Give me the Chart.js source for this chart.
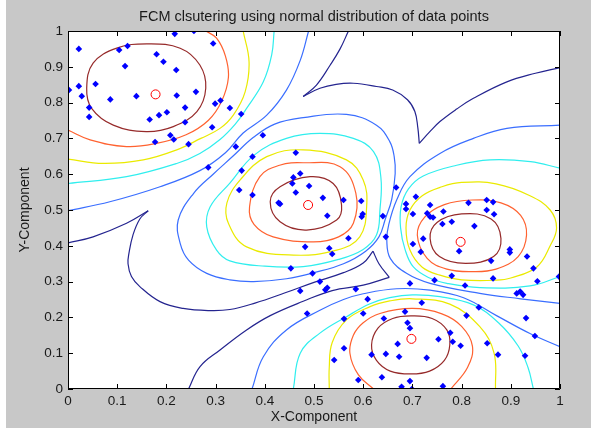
<!DOCTYPE html>
<html>
<head>
<meta charset="utf-8">
<title>FCM clustering</title>
<script src="https://cdn.jsdelivr.net/npm/chart.js@4.4.1/dist/chart.umd.min.js"></script>
<style>
  html, body { margin: 0; padding: 0; background: #fff; }
  #wrap { width: 591px; height: 428px; }
</style>
</head>
<body>
<div id="wrap"><canvas id="myChart" width="591" height="428"></canvas></div>
<script>
const tickValues = [0, 0.1, 0.2, 0.3, 0.4, 0.5, 0.6, 0.7, 0.8, 0.9, 1];
const tickLabels = ['0', '0.1', '0.2', '0.3', '0.4', '0.5', '0.6', '0.7', '0.8', '0.9', '1'];

// data points (x, y)
const dataPoints = [
  [0.217,0.992],[0.256,1.0],[0.022,0.950],[0.104,0.947],[0.121,0.958],[0.295,0.965],[0.180,0.935],
  [0.194,0.914],[0.116,0.902],[0.220,0.891],[0.056,0.852],[0.002,0.835],[0.022,0.846],[0.028,0.818],
  [0.086,0.809],[0.139,0.818],[0.221,0.820],[0.260,0.830],[0.299,0.797],[0.310,0.806],[0.329,0.785],
  [0.043,0.786],[0.043,0.760],[0.238,0.786],[0.201,0.773],[0.185,0.765],[0.166,0.753],[0.238,0.745],
  [0.293,0.731],[0.208,0.709],[0.215,0.697],[0.177,0.690],[0.245,0.684],[0.352,0.768],[0.285,0.619],
  [0.396,0.709],[0.341,0.677],[0.463,0.660],[0.375,0.649],[0.353,0.610],[0.348,0.556],[0.375,0.542],
  [0.458,0.591],[0.472,0.602],[0.456,0.574],[0.490,0.567],[0.463,0.549],[0.428,0.520],[0.431,0.517],
  [0.518,0.534],[0.560,0.528],[0.596,0.525],[0.527,0.484],[0.599,0.489],[0.597,0.481],[0.640,0.483],
  [0.570,0.421],[0.646,0.425],[0.482,0.397],[0.531,0.393],[0.537,0.377],[0.453,0.337],[0.497,0.323],
  [0.512,0.300],[0.472,0.274],[0.527,0.283],[0.523,0.277],[0.585,0.279],[0.486,0.211],
  [0.667,0.563],[0.707,0.537],[0.687,0.517],[0.687,0.503],[0.736,0.514],[0.814,0.520],[0.851,0.528],
  [0.864,0.522],[0.701,0.489],[0.730,0.491],[0.736,0.481],[0.742,0.479],[0.763,0.496],[0.851,0.500],
  [0.866,0.488],[0.761,0.461],[0.780,0.467],[0.826,0.455],[0.722,0.420],[0.701,0.405],[0.795,0.385],
  [0.717,0.383],[0.898,0.390],[0.898,0.381],[0.933,0.370],[0.860,0.358],[0.946,0.337],[0.780,0.316],
  [0.864,0.309],[0.745,0.304],[0.807,0.289],[0.695,0.295],[0.954,0.301],[0.998,0.314],[0.912,0.267],
  [0.919,0.272],[0.925,0.263],
  [0.609,0.251],[0.719,0.241],[0.835,0.228],[0.810,0.205],[0.931,0.198],[0.949,0.148],[0.561,0.196],
  [0.600,0.211],[0.642,0.197],[0.685,0.216],[0.690,0.185],[0.695,0.170],[0.753,0.139],[0.782,0.132],
  [0.798,0.121],[0.777,0.157],[0.852,0.128],[0.670,0.126],[0.561,0.114],[0.646,0.098],[0.673,0.090],
  [0.729,0.087],[0.617,0.096],[0.874,0.096],[0.929,0.093],[0.541,0.081],[0.638,0.033],[0.695,0.022],
  [0.678,0.006],[0.699,0.0],[0.762,0.008],[0.590,0.025]
];

// cluster centres
const centers = [[0.178,0.823],[0.488,0.514],[0.798,0.411],[0.698,0.140]];

// contour lines, null = break (cusp)
const navyLines = [
  [[0.570,1.0],[0.553,0.95],[0.533,0.905],[0.505,0.849],[0.478,0.817],null,
   [0.478,0.817],[0.512,0.840],[0.545,0.851],[0.580,0.854],[0.627,0.845],[0.66,0.835],[0.69,0.808],
   [0.705,0.775],[0.711,0.73],[0.714,0.686],null,
   [0.714,0.686],[0.735,0.718],[0.756,0.747],[0.790,0.782],[0.824,0.812],[0.892,0.858],[0.95,0.882],[1.0,0.898]],
  [[0,0.408],[0.051,0.425],[0.119,0.463],[0.163,0.498],null,
   [0.163,0.498],[0.146,0.475],[0.132,0.43],[0.124,0.38],[0.122,0.35],[0.129,0.314],[0.146,0.286],
   [0.187,0.244],[0.234,0.225],[0.289,0.219],[0.329,0.222],[0.38,0.24],[0.44,0.268],[0.50,0.298],
   [0.56,0.325],[0.60,0.352],[0.62,0.385],null,
   [0.62,0.385],[0.632,0.35],[0.653,0.312],null,
   [0.653,0.312],[0.60,0.29],[0.537,0.275],[0.478,0.245],[0.411,0.205],[0.363,0.165],[0.309,0.109],
   [0.268,0.062],[0.245,0]]
];
const blueLines = [
  [[0,0.498],[0.085,0.523],[0.187,0.565],[0.268,0.61],[0.32,0.66],[0.356,0.715],[0.404,0.765],
   [0.444,0.835],[0.472,0.918],[0.489,1.0]],
  [[0.224,0.472],[0.255,0.546],[0.295,0.600],[0.335,0.650],[0.377,0.703],[0.42,0.74],[0.478,0.758],
   [0.566,0.767],[0.627,0.737],[0.654,0.691],[0.663,0.649],[0.665,0.602],[0.658,0.53],[0.645,0.475],
   [0.632,0.425],[0.605,0.385],[0.56,0.35],[0.50,0.325],[0.444,0.308],[0.377,0.300],[0.329,0.305],
   [0.282,0.323],[0.245,0.36],[0.228,0.407],[0.224,0.472]],
  [[1,0.737],[0.892,0.728],[0.824,0.700],[0.756,0.658],[0.695,0.593],[0.668,0.528],[0.652,0.46],
   [0.648,0.415],[0.655,0.365],[0.688,0.323],[0.736,0.295],[0.837,0.267],[0.92,0.252],[1,0.239]],
  [[0.374,0],[0.397,0.09],[0.444,0.165],[0.512,0.22],[0.56,0.25],[0.600,0.266],[0.668,0.28],
   [0.736,0.276],[0.804,0.255],[0.871,0.205],[0.939,0.155],[1,0.118]]
];
const cyanLines = [
  [[0,0.574],[0.119,0.593],[0.221,0.630],[0.268,0.658],[0.309,0.697],[0.34,0.74],[0.363,0.784],
   [0.397,0.858],[0.414,0.933],[0.419,1.0]],
  [[0.282,0.453],[0.289,0.509],[0.329,0.575],[0.379,0.654],[0.444,0.700],[0.512,0.714],[0.580,0.700],
   [0.621,0.663],[0.636,0.59],[0.634,0.50],[0.627,0.43],[0.60,0.39],[0.55,0.362],[0.478,0.342],
   [0.40,0.343],[0.329,0.358],[0.302,0.388],[0.282,0.453]],
  [[1,0.617],[0.94,0.635],[0.858,0.640],[0.79,0.625],[0.722,0.595],[0.692,0.559],[0.677,0.509],
   [0.676,0.45],[0.685,0.39],[0.702,0.341],[0.735,0.31],[0.770,0.295],[0.837,0.283],[0.939,0.288],[1,0.314]],
  [[0.458,0],[0.472,0.1],[0.512,0.156],[0.566,0.202],[0.614,0.238],[0.654,0.255],[0.70,0.263],
   [0.756,0.258],[0.824,0.235],[0.875,0.185],[0.915,0.12],[0.935,0.06],[0.946,0]]
];
const yellowLines = [
  [[0,0.642],[0.072,0.630],[0.153,0.640],[0.221,0.668],[0.27,0.70],[0.309,0.728],[0.336,0.765],
   [0.360,0.830],[0.368,0.914],[0.356,1.0]],
  [[0.326,0.463],[0.323,0.52],[0.350,0.584],[0.404,0.649],[0.478,0.668],[0.566,0.640],[0.600,0.584],
   [0.607,0.509],[0.593,0.425],[0.546,0.388],[0.458,0.374],[0.363,0.397],[0.326,0.463]],
  [[0.687,0.45],[0.695,0.50],[0.72,0.54],[0.76,0.565],[0.80,0.577],[0.87,0.573],[0.939,0.54],
   [0.98,0.50],[0.993,0.45],[0.98,0.40],[0.953,0.341],[0.90,0.31],[0.871,0.304],[0.80,0.305],
   [0.756,0.318],[0.72,0.34],[0.695,0.388],[0.687,0.45]],
  [[0.531,0],[0.531,0.06],[0.537,0.13],[0.566,0.193],[0.614,0.230],[0.654,0.246],[0.70,0.252],
   [0.776,0.237],[0.837,0.174],[0.866,0.1],[0.869,0]]
];
const orangeLines = [
  [[0,0.723],[0.045,0.696],[0.119,0.677],[0.18,0.686],[0.24,0.71],[0.285,0.75],[0.312,0.803],
   [0.326,0.87],[0.32,0.93],[0.302,0.98],[0.28,1.0]],
  [[0.369,0.509],[0.39,0.593],[0.43,0.625],[0.478,0.632],[0.553,0.621],[0.585,0.547],[0.58,0.463],
   [0.55,0.425],[0.499,0.411],[0.417,0.425],[0.378,0.46],[0.369,0.509]],
  [[0.710,0.43],[0.725,0.48],[0.765,0.515],[0.821,0.528],[0.88,0.52],[0.92,0.485],[0.932,0.43],
   [0.915,0.37],[0.87,0.335],[0.821,0.328],[0.77,0.335],[0.73,0.365],[0.710,0.43]],
  [[0.621,0],[0.590,0.04],[0.573,0.10],[0.58,0.15],[0.600,0.185],[0.634,0.211],[0.70,0.225],
   [0.76,0.21],[0.80,0.175],[0.822,0.12],[0.812,0.06],[0.778,0]]
];
const brownLines = [
  [[0.038,0.840],[0.051,0.91],[0.099,0.952],[0.160,0.964],[0.228,0.952],[0.268,0.905],[0.280,0.840],
   [0.262,0.775],[0.214,0.733],[0.159,0.719],[0.092,0.737],[0.048,0.784],[0.038,0.840]],
  [[0.411,0.523],[0.431,0.565],[0.492,0.593],[0.539,0.574],[0.556,0.514],[0.546,0.472],[0.485,0.444],
   [0.431,0.467],[0.411,0.523]],
  [[0.736,0.42],[0.75,0.465],[0.80,0.489],[0.86,0.475],[0.880,0.42],[0.865,0.37],[0.808,0.351],
   [0.755,0.37],[0.736,0.42]],
  [[0.617,0.123],[0.63,0.17],[0.66,0.197],[0.697,0.204],[0.74,0.197],[0.77,0.165],[0.776,0.123],
   [0.765,0.08],[0.735,0.05],[0.697,0.042],[0.655,0.05],[0.627,0.08],[0.617,0.123]]
];

const levels = [
  { lines: navyLines, color: '#24248f' },
  { lines: blueLines, color: '#3a6eff' },
  { lines: cyanLines, color: '#30eeee' },
  { lines: yellowLines, color: '#eaea00' },
  { lines: orangeLines, color: '#ff6230' },
  { lines: brownLines, color: '#962a2a' }
];

const FONT = "'Liberation Sans', Arial, sans-serif";
const toXY = (p) => (p ? { x: p[0], y: p[1] } : { x: null, y: null });
const HIDDEN = 'rgba(0,0,0,0)';

const isClosed = (line) => {
  const a = line[0], b = line[line.length - 1];
  return a && b && a[0] === b[0] && a[1] === b[1];
};

const datasets = [];
levels.forEach((lvl) => {
  lvl.lines.forEach((line) => {
    const closed = isClosed(line);
    // closed rings: pad with a neighbour on each side so the seam stays smooth,
    // and hide the two padding segments
    const pts = closed ? [line[line.length - 2], ...line, line[1]] : line;
    const last = pts.length - 1;
    datasets.push({
      data: pts.map(toXY),
      showLine: true,
      borderColor: lvl.color,
      borderWidth: 1.2,
      tension: 0.4,
      pointRadius: 0,
      pointHoverRadius: 0,
      fill: false,
      spanGaps: false,
      order: 3,
      segment: closed ? {
        borderColor: (c) => (c.p0DataIndex === 0 || c.p1DataIndex === last ? HIDDEN : undefined),
      } : {},
    });
  });
});
datasets.push({
  data: dataPoints.map(toXY),
  pointStyle: 'rectRot',
  pointRadius: 3.3,
  backgroundColor: '#0000ff',
  borderColor: '#0000ff',
  borderWidth: 0,
  order: 2,
});
datasets.push({
  data: centers.map(toXY),
  pointStyle: 'circle',
  pointRadius: 4.5,
  backgroundColor: HIDDEN,
  borderColor: '#ff0000',
  borderWidth: 1,
  order: 1,
});

// grey figure, white axes, box with inward ticks
const frame = {
  id: 'frame',
  beforeDraw(chart) {
    const { ctx, chartArea: a } = chart;
    ctx.save();
    ctx.fillStyle = '#c8c8c8';
    ctx.fillRect(6, 0, chart.width - 6, chart.height);
    ctx.fillStyle = '#ffffff';
    ctx.fillRect(a.left, a.top, a.right - a.left, a.bottom - a.top);
    ctx.restore();
  },
  afterDatasetsDraw(chart) {
    const { ctx, chartArea: a, scales: { x, y } } = chart;
    ctx.save();
    ctx.strokeStyle = '#000';
    ctx.lineWidth = 1;
    ctx.beginPath();
    ctx.rect(a.left + 0.5, a.top + 0.5, a.right - a.left - 1, a.bottom - a.top - 1);
    tickValues.forEach((v) => {
      const px = Math.round(x.getPixelForValue(v)) + 0.5;
      ctx.moveTo(px, a.bottom); ctx.lineTo(px, a.bottom - 5);
      ctx.moveTo(px, a.top); ctx.lineTo(px, a.top + 5);
      const py = Math.round(y.getPixelForValue(v)) + 0.5;
      ctx.moveTo(a.left, py); ctx.lineTo(a.left + 5, py);
      ctx.moveTo(a.right, py); ctx.lineTo(a.right - 5, py);
    });
    ctx.stroke();
    ctx.restore();
  }
};

const axisCommon = {
  type: 'linear',
  min: 0,
  max: 1,
  afterBuildTicks: (s) => { s.ticks = tickValues.map((v) => ({ value: v })); },
  grid: { display: false, drawTicks: false },
  border: { display: false },
};

new Chart(document.getElementById('myChart'), {
  type: 'scatter',
  data: { datasets },
  plugins: [frame],
  options: {
    responsive: false,
    animation: false,
    events: [],
    layout: { padding: { left: 6, right: 31, top: 0, bottom: 0 } },
    plugins: {
      legend: { display: false },
      tooltip: { enabled: false },
      title: {
        display: true,
        fullSize: false,
        text: 'FCM clsutering using normal distribution of data points',
        color: '#1a1a1a',
        font: { family: FONT, size: 14.5, weight: 'normal' },
        padding: { top: 8, bottom: 5.6 },
      },
    },
    scales: {
      x: {
        ...axisCommon,
        ticks: {
          callback: (v, i) => tickLabels[i],
          color: '#1a1a1a',
          font: { family: FONT, size: 13.5 },
          padding: 4,
          maxRotation: 0,
          autoSkip: false,
        },
        title: {
          display: true,
          text: 'X-Component',
          color: '#1a1a1a',
          font: { family: FONT, size: 14 },
          padding: { top: 0, bottom: 2.6 },
        },
        afterFit: (s) => { s.height = 39; },
      },
      y: {
        ...axisCommon,
        ticks: {
          callback: (v, i) => tickLabels[i],
          color: '#1a1a1a',
          font: { family: FONT, size: 13.5 },
          padding: 5,
          autoSkip: false,
        },
        title: {
          display: true,
          text: 'Y-Component',
          color: '#1a1a1a',
          font: { family: FONT, size: 14 },
          padding: { top: 10.6, bottom: 0 },
        },
        afterFit: (s) => { s.width = 62; },
      },
    },
  },
});
</script>
</body>
</html>
